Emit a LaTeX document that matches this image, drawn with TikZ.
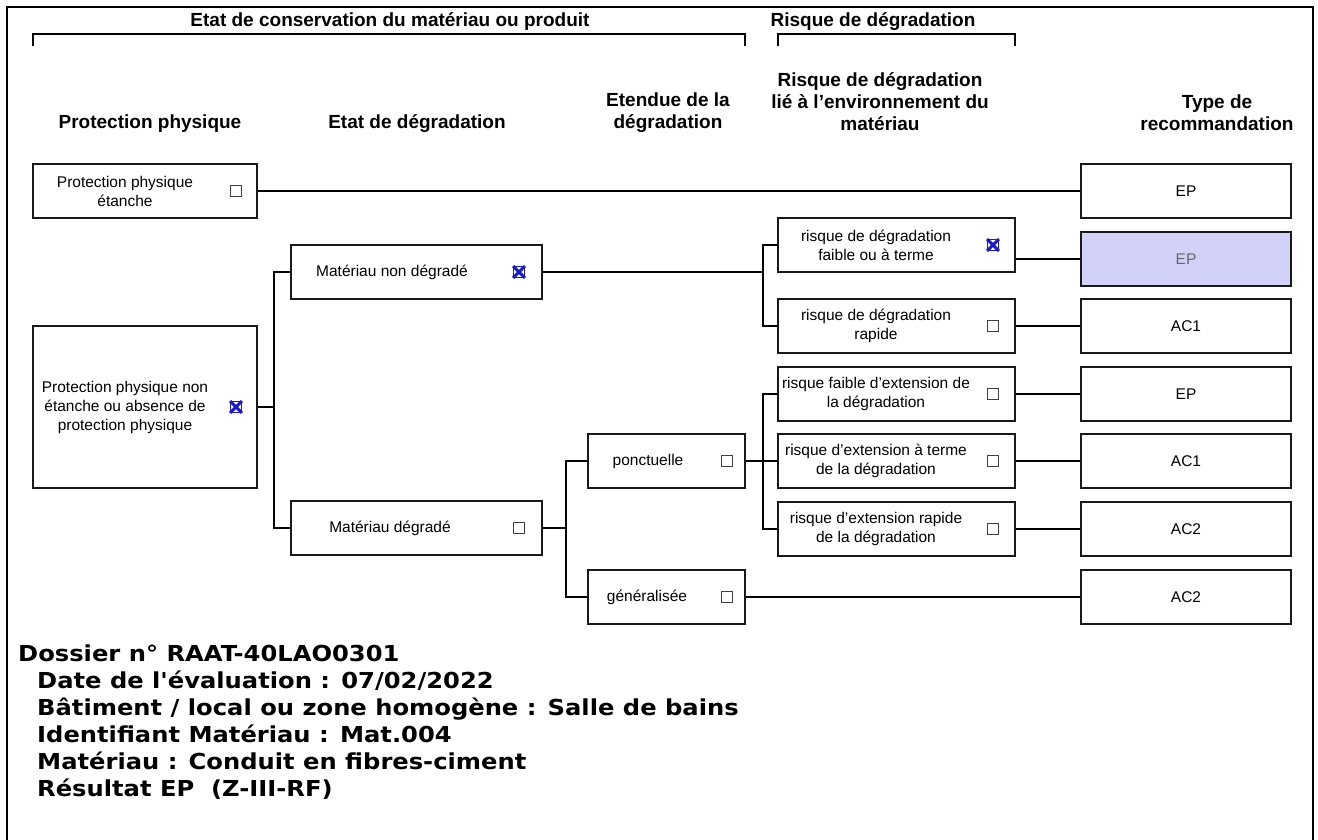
\documentclass[tikz,border=0pt]{standalone}
\usepackage{fontspec}
\setmainfont{Liberation Sans}
\newfontfamily\infofont{DejaVu Sans}[FakeStretch=1.1]
\usepackage{tikz}

\definecolor{markblue}{RGB}{25,25,205}
\definecolor{selfill}{RGB}{210,210,248}
\definecolor{boxline}{RGB}{25,25,25}

\tikzset{
  box/.style={draw=boxline, line width=2pt, minimum height=54pt, inner sep=0pt},
  risk/.style={box, minimum width=237pt},
  rec/.style={box, minimum width=210pt, font=\fontsize{15.5}{18}\selectfont},
  boxtext/.style={align=center, inner sep=0pt, font=\fontsize{15.5}{19}\selectfont},
  head/.style={align=center, inner sep=0pt, font=\fontsize{19}{22}\selectfont\bfseries},
  chk/.style={draw=black!75, line width=1.1pt, minimum size=11pt, inner sep=0pt},
  xmark/.style={draw=markblue, line width=3pt},
  link/.style={line width=2pt},
  info/.style={anchor=base west, inner sep=0pt, font=\infofont\bfseries\fontsize{22}{27}\selectfont},
}

\begin{document}
\begin{tikzpicture}[x=1pt, y=-1pt]
    \useasboundingbox (0,0) rectangle (1318,839);
    \draw[line width=2pt] (7,845) -- (7,7) -- (1313,7) -- (1313,845);

    % headers
    \node[head] (t-etat) at (390,22) {Etat de conservation du mat\'eriau ou produit};
    \node[head] (t-risk) at (873,22) {Risque de d\'egradation};
    \draw[link] (33,46) -- (33,34) -- (745,34) -- (745,46);
    \draw[link] (778,46) -- (778,34) -- (1015,34) -- (1015,46);
    \node[head] (h-prot) at (150,124) {Protection physique};
    \node[head] (h-etat) at (417,124) {Etat de d\'egradation};
    \node[head] (h-eten) at (668,113) {Etendue de la\\d\'egradation};
    \node[head] (h-env) at (880,102) {Risque de d\'egradation\\li\'e \`a l'environnement du\\mat\'eriau};
    \node[head] (h-type) at (1217,113) {Type de\\recommandation};

    % protection physique
    \node[box, minimum width=224pt] (ppe) at (145,191) {};
    \node[boxtext] (ppe-t) at (125,191) {Protection physique\\\'etanche};
    \node[chk] (ppe-c) at (236,191) {};
    \node[box, minimum width=224pt, minimum height=162pt] (ppn) at (145,407) {};
    \node[boxtext] (ppn-t) at (125,407) {Protection physique non\\\'etanche ou absence de\\protection physique};
    \node[chk, draw=markblue, line width=0.8pt] (ppn-c) at (236,407) {};
    \draw[xmark] (ppn-c.north west) -- (ppn-c.south east) (ppn-c.north east) -- (ppn-c.south west);

    % etat de degradation
    \node[box, minimum width=251pt] (mnd) at (416.5,272) {};
    \node[boxtext] (mnd-t) at (392,272) {Mat\'eriau non d\'egrad\'e};
    \node[chk, draw=markblue, line width=0.8pt] (mnd-c) at (519,272) {};
    \draw[xmark] (mnd-c.north west) -- (mnd-c.south east) (mnd-c.north east) -- (mnd-c.south west);
    \node[box, minimum width=251pt] (md) at (416.5,528) {};
    \node[boxtext] (md-t) at (390,528) {Mat\'eriau d\'egrad\'e};
    \node[chk] (md-c) at (519,528) {};

    % etendue
    \node[box, minimum width=157pt] (ponct) at (666.5,461) {};
    \node[boxtext] (ponct-t) at (648,461) {ponctuelle};
    \node[chk] (ponct-c) at (727,461) {};
    \node[box, minimum width=157pt] (gen) at (666.5,597) {};
    \node[boxtext] (gen-t) at (647,597) {g\'en\'eralis\'ee};
    \node[chk] (gen-c) at (727,597) {};

    % risque
    \node[risk] (r1) at (896.5,245) {};
    \node[boxtext] (r1-t) at (876,245) {risque de d\'egradation\\faible ou \`a terme};
    \node[chk, draw=markblue, line width=0.8pt] (r1-c) at (993,245) {};
    \draw[xmark] (r1-c.north west) -- (r1-c.south east) (r1-c.north east) -- (r1-c.south west);
    \node[risk] (r2) at (896.5,326) {};
    \node[boxtext] (r2-t) at (876,326) {risque de d\'egradation\\rapide};
    \node[chk] (r2-c) at (993,326) {};
    \node[risk] (r3) at (896.5,394) {};
    \node[boxtext] (r3-t) at (876,394) {risque faible d'extension de\\la d\'egradation};
    \node[chk] (r3-c) at (993,394) {};
    \node[risk] (r4) at (896.5,461) {};
    \node[boxtext] (r4-t) at (876,461) {risque d'extension \`a terme\\de la d\'egradation};
    \node[chk] (r4-c) at (993,461) {};
    \node[risk] (r5) at (896.5,529) {};
    \node[boxtext] (r5-t) at (876,529) {risque d'extension rapide\\de la d\'egradation};
    \node[chk] (r5-c) at (993,529) {};

    % recommandation
    \node[rec] (rec1) at (1186,191) {EP};
    \node[rec, fill=selfill, text=black!60] (rec2) at (1186,259) {EP};
    \node[rec] (rec3) at (1186,326) {AC1};
    \node[rec] (rec4) at (1186,394) {EP};
    \node[rec] (rec5) at (1186,461) {AC1};
    \node[rec] (rec6) at (1186,529) {AC2};
    \node[rec] (rec7) at (1186,597) {AC2};

    % connectors
    \coordinate (j1) at (273.5,407);
    \coordinate (j2) at (763,272);
    \coordinate (j3) at (565.5,528);
    \draw[link] (ppe.east |- rec1.west) -- (rec1.west);
    \draw[link] (ppn.east) -- (j1);
    \draw[link] (mnd.west) -- (mnd.west -| j1) -- (md.west -| j1) -- (md.west);
    \draw[link] (mnd.east) -- (j2);
    \draw[link] (r1.west) -- (r1.west -| j2) -- (r2.west -| j2) -- (r2.west);
    \draw[link] (md.east) -- (j3);
    \draw[link] (ponct.west) -- (ponct.west -| j3) -- (gen.west -| j3) -- (gen.west);
    \draw[link] (ponct.east) -- (r4.west);
    \draw[link] (r3.west) -- (r3.west -| j2) -- (r5.west -| j2) -- (r5.west);
    \draw[link] (r1.east |- rec2.west) -- (rec2.west);
    \draw[link] (r2.east |- rec3.west) -- (rec3.west);
    \draw[link] (r3.east |- rec4.west) -- (rec4.west);
    \draw[link] (r4.east |- rec5.west) -- (rec5.west);
    \draw[link] (r5.east |- rec6.west) -- (rec6.west);
    \draw[link] (gen.east |- rec7.west) -- (rec7.west);

    % dossier
    \node[info] (dossier) at (18,661) {Dossier n° RAAT-40LAO0301};
    \node[info] (date) at (37,688) {Date de l'\'evaluation : 07/02/2022};
    \node[info] (batiment) at (37,715) {B\^atiment / local ou zone homog\`ene : Salle de bains};
    \node[info] (ident) at (37,742) {Identifiant Mat\'eriau : Mat.004};
    \node[info] (materiau) at (37,769) {Mat\'eriau : Conduit en fibres-ciment};
    \node[info] (resultat) at (37,796) {R\'esultat EP~~(Z-III-RF)};
\end{tikzpicture}
\end{document}
